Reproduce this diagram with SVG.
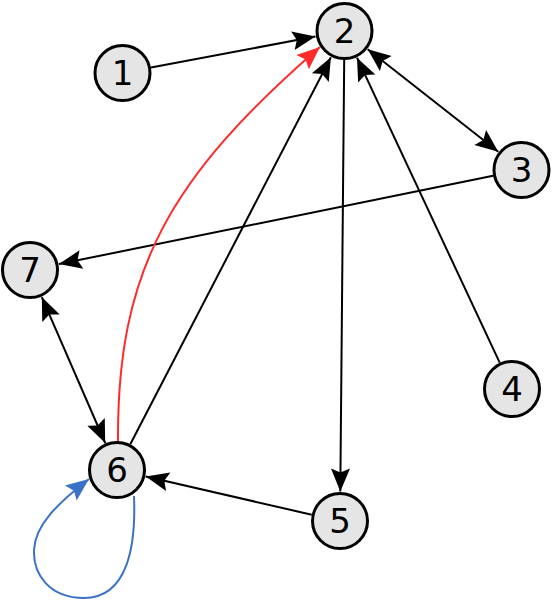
<svg xmlns="http://www.w3.org/2000/svg" width="552" height="600" viewBox="0 0 552 600">
<defs>
<style>
.node circle{fill:#e5e5e5;stroke:#000;stroke-width:3}
.node text{font-family:"DejaVu Sans",sans-serif;font-size:34px;text-anchor:middle;fill:#000}
.e{fill:none;stroke:#000;stroke-width:2}
.red{stroke:#ff2a2a}
.blue{stroke:#3a72c8}
</style>
<marker id="ab" viewBox="-24 -11 26 22" refX="0" refY="0" markerWidth="26" markerHeight="22" markerUnits="userSpaceOnUse" orient="auto-start-reverse"><path d="M0,0 L-23,-9.5 L-19,0 L-23,9.5 z" fill="#000"/></marker>
<marker id="ar" viewBox="-24 -11 26 22" refX="0" refY="0" markerWidth="26" markerHeight="22" markerUnits="userSpaceOnUse" orient="auto"><path d="M0,0 L-23,-9.5 L-19,0 L-23,9.5 z" fill="#ff2a2a"/></marker>
<marker id="abl" viewBox="-24 -11 26 22" refX="0" refY="0" markerWidth="26" markerHeight="22" markerUnits="userSpaceOnUse" orient="auto"><path d="M0,0 L-23,-9.5 L-19,0 L-23,9.5 z" fill="#3a72c8"/></marker>
</defs>
<g id="connectors">
<line class="e" x1="151" y1="67.6" x2="315.5" y2="36.5" marker-end="url(#ab)"/>
<line class="e" x1="367.7" y1="49.2" x2="498.3" y2="151.8" marker-start="url(#ab)" marker-end="url(#ab)"/>
<line class="e" x1="493.1" y1="175.8" x2="58.9" y2="264.1" marker-end="url(#ab)"/>
<line class="e" x1="499.7" y1="362.7" x2="357" y2="57.7" marker-end="url(#ab)"/>
<line class="e" x1="344.2" y1="60" x2="340.3" y2="491.5" marker-end="url(#ab)"/>
<line class="e" x1="311.7" y1="514.7" x2="145.8" y2="476.5" marker-end="url(#ab)"/>
<line class="e" x1="130.3" y1="444.3" x2="330.9" y2="57.2" marker-end="url(#ab)"/>
<line class="e" x1="41.8" y1="297.1" x2="105.2" y2="443" marker-start="url(#ab)" marker-end="url(#ab)"/>
<path class="e red" d="M118,441 C117,271 169,178 320,47" marker-end="url(#ar)"/>
<path class="e blue" d="M134,496 C136,545 128,598 84,598 C50,598 33,575 34,550 C35,525 58,503 89,479" marker-end="url(#abl)"/>
</g>
<g id="n1" class="node"><circle cx="122.5" cy="73" r="27.5"/><text x="122.5" y="85.4">1</text></g>
<g id="n2" class="node"><circle cx="344.5" cy="31" r="27.5"/><text x="344.5" y="43.4">2</text></g>
<g id="n3" class="node"><circle cx="521.5" cy="170" r="27.5"/><text x="521.5" y="182.4">3</text></g>
<g id="n4" class="node"><circle cx="512" cy="389" r="27.5"/><text x="512" y="401.4">4</text></g>
<g id="n5" class="node"><circle cx="340" cy="521" r="27.5"/><text x="340" y="533">5</text></g>
<g id="n6" class="node"><circle cx="117" cy="470" r="27.5"/><text x="117" y="482.4">6</text></g>
<g id="n7" class="node"><circle cx="30" cy="270" r="27.5"/><text x="30" y="282.4">7</text></g>
</svg>
